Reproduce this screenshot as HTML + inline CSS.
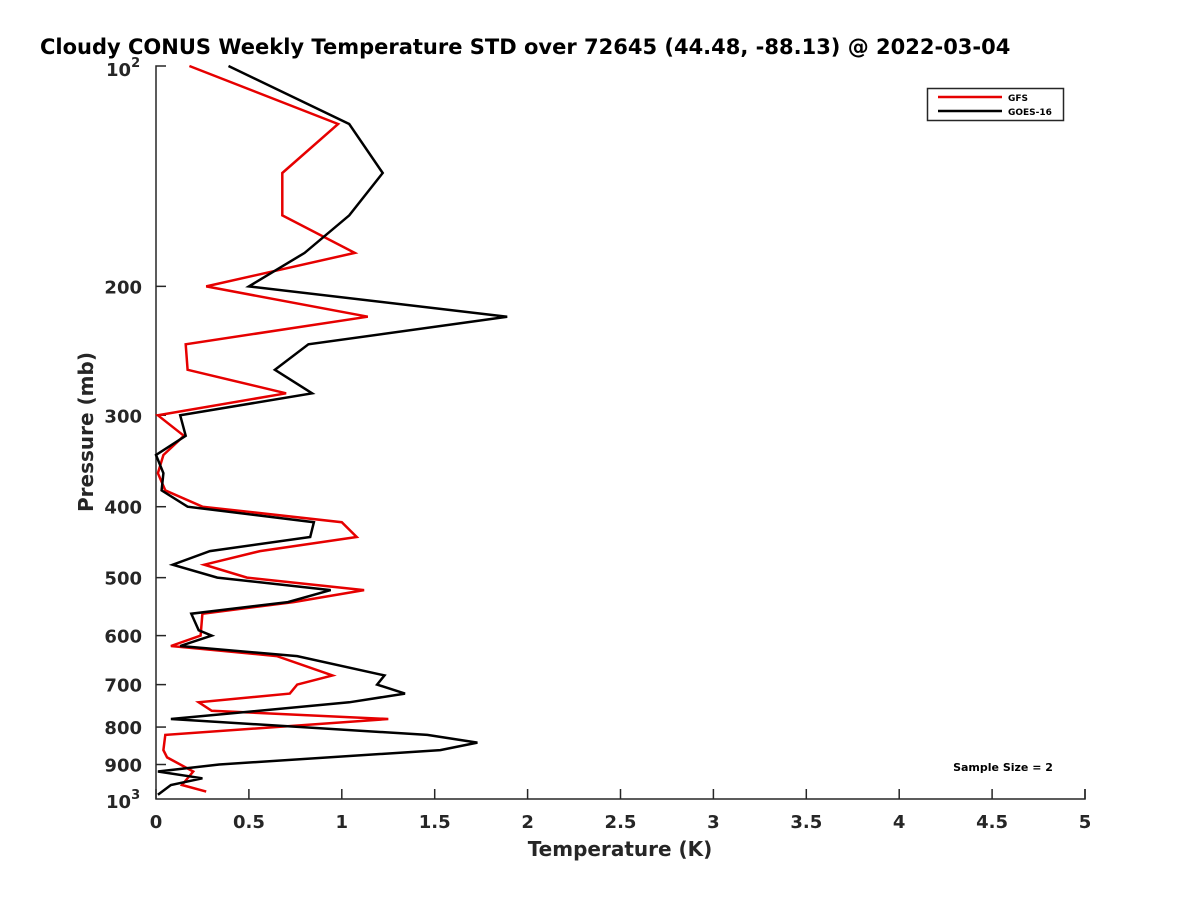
<!DOCTYPE html>
<html><head><meta charset="utf-8"><style>
body{margin:0;background:#fff}
svg text{font-family:"DejaVu Sans","Liberation Sans",sans-serif;font-weight:bold;fill:#262626}
</style></head><body>
<svg width="1200" height="900" viewBox="0 0 1200 900">
<rect width="1200" height="900" fill="#fff"/>
<text x="40" y="54" font-size="21" style="fill:#000">Cloudy CONUS Weekly Temperature STD over 72645 (44.48, -88.13) @ 2022-03-04</text>
<g id="axes"></g>
<g id="series"></g>
<text x="620" y="856" text-anchor="middle" font-size="20">Temperature (K)</text>
<text transform="translate(93,432) rotate(-90)" text-anchor="middle" font-size="20">Pressure (mb)</text>
<g>
<rect x="927.5" y="88.5" width="136" height="32" fill="#fff" stroke="#262626" stroke-width="1.5"/>
<line x1="938" y1="97" x2="1002" y2="97" stroke="#e60000" stroke-width="2.5"/>
<text x="1008" y="101" font-size="9" style="fill:#000">GFS</text>
<line x1="938" y1="111" x2="1002" y2="111" stroke="#000" stroke-width="2.5"/>
<text x="1008" y="115" font-size="9" style="fill:#000">GOES-16</text>
</g>
<text x="1003" y="771" text-anchor="middle" font-size="11" style="fill:#000">Sample Size = 2</text>
</svg>
<script>
const xTicks=[0,0.5,1,1.5,2,2.5,3,3.5,4,4.5,5];
const xTickLabels=["0","0.5","1","1.5","2","2.5","3","3.5","4","4.5","5"];
const yTicks=[200,300,400,500,600,700,800,900];
const gfsP=[100,120,140,160,180,200,220,240,260,280,300,320,340,360,380,400,420,440,460,480,500,520,540,560,600,620,640,680,700,720,740,760,780,820,860,880,920,960,980];
const gfsT=[0.18,0.98,0.68,0.68,1.07,0.27,1.14,0.16,0.17,0.70,0.01,0.15,0.04,0.01,0.05,0.25,1.00,1.08,0.56,0.26,0.49,1.12,0.74,0.25,0.24,0.08,0.65,0.95,0.76,0.72,0.23,0.30,1.25,0.05,0.04,0.06,0.20,0.14,0.27];
const goesP=[100,120,140,160,180,200,220,240,260,280,300,320,340,360,380,400,420,440,460,480,500,520,540,560,590,600,620,640,680,700,720,740,780,820,840,860,900,920,940,960,990];
const goesT=[0.39,1.04,1.22,1.04,0.80,0.50,1.89,0.82,0.64,0.84,0.13,0.16,0.00,0.04,0.03,0.17,0.85,0.83,0.29,0.09,0.33,0.94,0.71,0.19,0.23,0.30,0.13,0.76,1.23,1.19,1.34,1.04,0.08,1.46,1.73,1.53,0.34,0.01,0.25,0.08,0.01];
const X0=156,X1=1085,Y0=66,Y1=798;
const xs=t=>X0+(X1-X0)*t/5;
const ys=p=>Y0+(Y1-Y0)*(Math.log10(p)-2);
const NS="http://www.w3.org/2000/svg";
const axes=document.getElementById('axes'),ser=document.getElementById('series');
function mk(tag,attrs,parent){const e=document.createElementNS(NS,tag);for(const k in attrs)e.setAttribute(k,attrs[k]);parent.appendChild(e);return e;}
let e=mk('path',{d:`M${X0+10},${Y0} H${X0} V${Y1+1} H${X1} V${Y1-9}`,fill:'none',stroke:'#262626','stroke-width':1.5},axes);


xTicks.forEach((t,i)=>{
 const x=xs(t);
 const l=mk('line',{x1:x,x2:x,y1:Y1+1,y2:Y1-9,stroke:'#262626','stroke-width':1.5},axes);
 
 
 const tx=mk('text',{x:x,y:828,'text-anchor':'middle','font-size':18},axes);
 tx.textContent=xTickLabels[i];
 
 
});
yTicks.forEach(p=>{
 const y=ys(p);
 const l=mk('line',{x1:X0,x2:X0+10,y1:y,y2:y,stroke:'#262626','stroke-width':1.5},axes);
 
 
 const tx=mk('text',{x:142,y:y+7,'text-anchor':'end','font-size':18},axes);
 tx.textContent=String(p);
 
 
});
[[100,'2'],[1000,'3']].forEach(([p,exp])=>{
 const y=ys(p);
 const tx=mk('text',{x:106,y:y+10,'font-size':18},axes);
 tx.textContent='10';
 
 
 const sp=mk('tspan',{dy:-9,'font-size':13},tx);
 sp.textContent=exp;
});
function line(P,T,color,name){
 const d=P.map((p,i)=>(i?'L':'M')+xs(T[i]).toFixed(1)+','+ys(p).toFixed(1)).join(' ');
 const pl=mk('path',{d:d,fill:'none',stroke:color,'stroke-width':2.5,'stroke-linejoin':'miter'},ser);
 
 
}
line(gfsP,gfsT,'#e60000','gfs-line');
line(goesP,goesT,'#000','goes16-line');
</script>
</body></html>
